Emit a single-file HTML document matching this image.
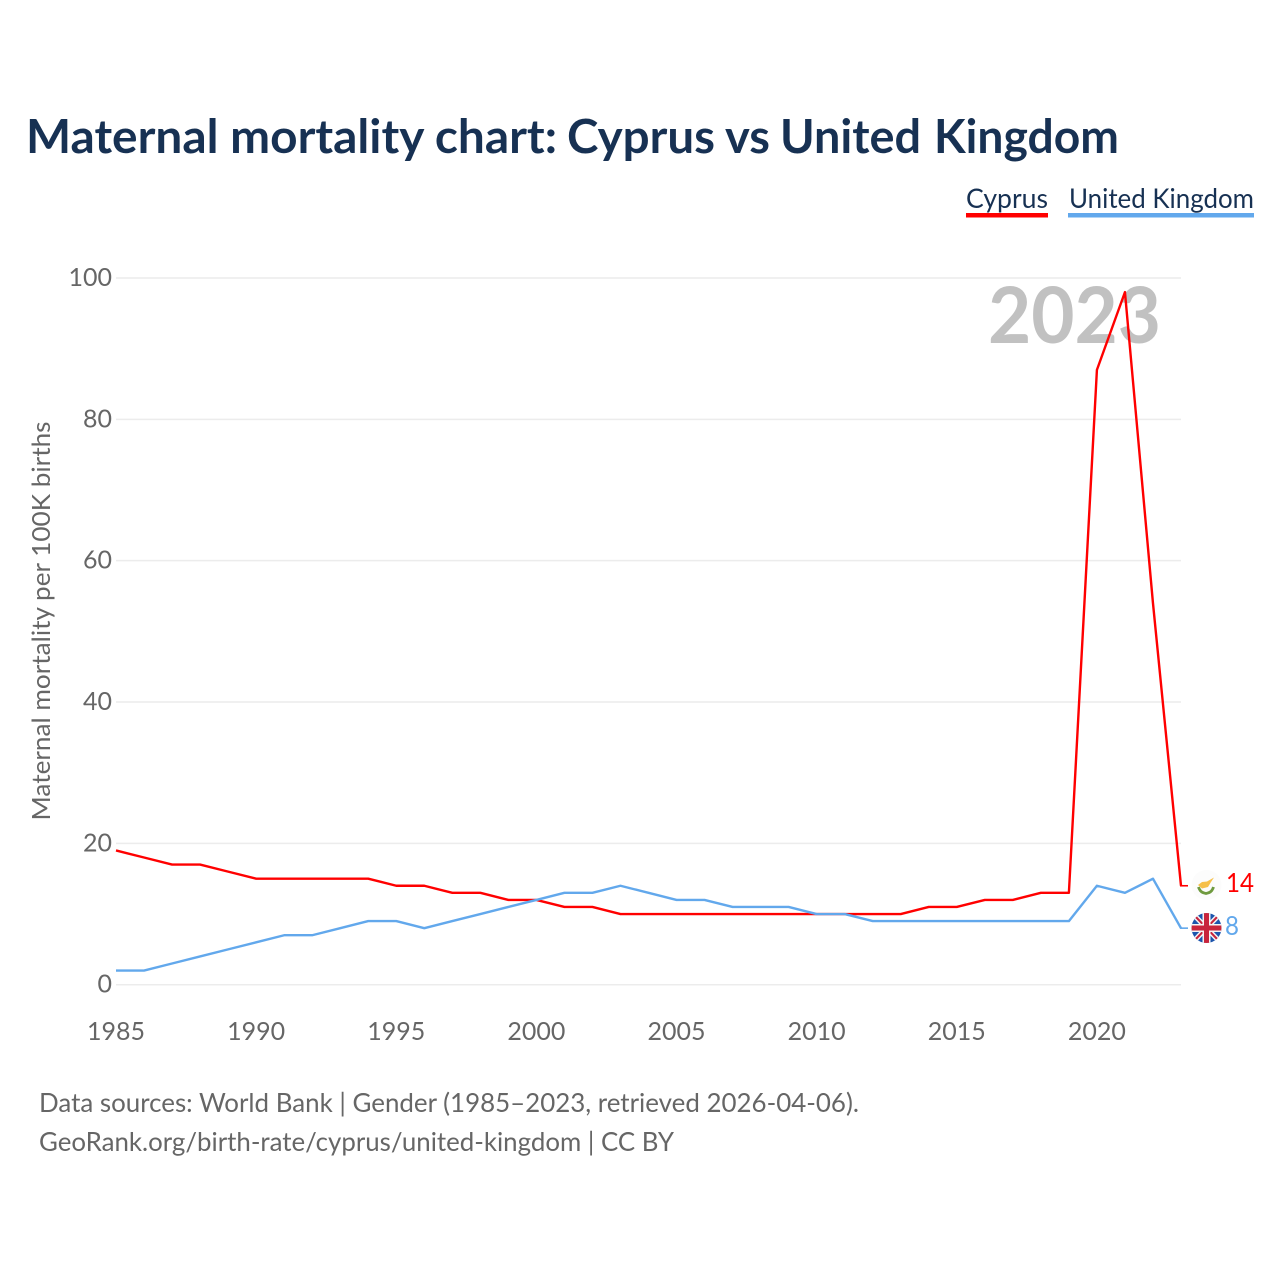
<!DOCTYPE html>
<html lang="en">
<head>
<meta charset="utf-8">
<title>Maternal mortality chart: Cyprus vs United Kingdom</title>
<style>
html,body{margin:0;padding:0;background:#fff;}
svg{display:block;font-family:"Lato","Carlito","Liberation Sans",sans-serif;}
</style>
</head>
<body>
<svg id="chart" xmlns="http://www.w3.org/2000/svg" width="1280" height="1280" viewBox="0 0 1280 1280">
  <rect x="0" y="0" width="1280" height="1280" fill="#ffffff"/>
  <text y="153" font-size="47" font-weight="700" fill="#173153"><tspan x="26" textLength="531" lengthAdjust="spacingAndGlyphs">Maternal mortality chart:</tspan> <tspan x="567" textLength="148" lengthAdjust="spacingAndGlyphs">Cyprus</tspan> <tspan x="725" textLength="45" lengthAdjust="spacingAndGlyphs">vs</tspan> <tspan x="780" textLength="141" lengthAdjust="spacingAndGlyphs">United</tspan> <tspan x="934" textLength="185" lengthAdjust="spacingAndGlyphs">Kingdom</tspan></text>

  <g>
    <g>
      <text x="966" y="208" font-size="27" fill="#173153" textLength="82" lengthAdjust="spacingAndGlyphs">Cyprus</text>
      <rect x="966" y="213" width="82" height="4.500" fill="#ff0000"/>
    </g>
    <g>
      <text x="1069" y="208" font-size="27" fill="#173153" textLength="185" lengthAdjust="spacingAndGlyphs">United Kingdom</text>
      <rect x="1068" y="213" width="186" height="4.500" fill="#62a8ec"/>
    </g>
  </g>

  <text transform="translate(50,621) rotate(-90)" text-anchor="middle" font-size="25" fill="#666666" textLength="399" lengthAdjust="spacingAndGlyphs">Maternal mortality per 100K births</text>

  <g id="grid"></g>
  <g id="y-labels"></g>
  <g id="x-labels"></g>

  <text x="1161" y="343" text-anchor="end" font-size="78" font-weight="700" fill="#c1c1c1" textLength="173" lengthAdjust="spacingAndGlyphs">2023</text>

  <g id="series"></g>

  <g>
    <circle cx="1206.500" cy="885" r="15" fill="#fcfcfc"/>
    <path d="M1198 885 L1202 882 L1207 881.500 L1214 877.500 L1211 882 L1208 887 L1202 888.500 Z" fill="#f6c04a"/>
    <path d="M1198.500 887 C1200 892 1203 893 1206 893.500 C1209 893 1212 892 1213.500 887" fill="none" stroke="#6f9a3f" stroke-width="2.800"/>
  </g>

  <g>
    <defs>
      <clipPath id="uk-clip"><circle cx="1206.500" cy="928" r="15"/></clipPath>
    </defs>
    <g clip-path="url(#uk-clip)">
      <rect x="1191" y="913" width="31" height="30" fill="#1c55ad"/>
      <path d="M1194 915 L1219 941 M1219 915 L1194 941" stroke="#f4f4f4" stroke-width="5"/>
      <path d="M1194 915 L1219 941 M1219 915 L1194 941" stroke="#c8243c" stroke-width="2"/>
      <path d="M1206.500 913 V943 M1191 928 H1222" stroke="#f4f4f4" stroke-width="8"/>
      <path d="M1206.500 913 V943 M1191 928 H1222" stroke="#c8243c" stroke-width="5"/>
    </g>
  </g>

  <text id="value-cyprus" x="1226" y="892" font-size="26" fill="#ff0000" textLength="28" lengthAdjust="spacingAndGlyphs"></text>
  <text id="value-uk" x="1225" y="935" font-size="26" fill="#62a8ec" textLength="14" lengthAdjust="spacingAndGlyphs"></text>

  <g>
    <text x="39" y="1112" font-size="26" fill="#666666" textLength="820" lengthAdjust="spacingAndGlyphs">Data sources: World Bank | Gender (1985–2023, retrieved 2026-04-06).</text>
    <text x="39" y="1151" font-size="26" fill="#666666" textLength="635" lengthAdjust="spacingAndGlyphs">GeoRank.org/birth-rate/cyprus/united-kingdom | CC BY</text>
  </g>
</svg>
<script>
const years = [1985,1986,1987,1988,1989,1990,1991,1992,1993,1994,1995,1996,1997,1998,1999,2000,2001,2002,2003,2004,2005,2006,2007,2008,2009,2010,2011,2012,2013,2014,2015,2016,2017,2018,2019,2020,2021,2022,2023];
const cyprusValues = [19,18,17,17,16,15,15,15,15,15,14,14,13,13,12,12,11,11,10,10,10,10,10,10,10,10,10,10,10,11,11,12,12,13,13,87,98,54,14];
const ukValues = [2,2,3,4,5,6,7,7,8,9,9,8,9,10,11,12,13,13,14,13,12,12,11,11,11,10,10,9,9,9,9,9,9,9,9,14,13,15,8];
const yTicks = [0,20,40,60,80,100];
const xTicks = [1985,1990,1995,2000,2005,2010,2015,2020];

const svgNS = 'http://www.w3.org/2000/svg';
function xScale(year) { return 116 + (year - 1985) * (1181 - 116) / 38; }
function yScale(value) { return 984.7 - value * (984.7 - 278) / 100; }

const grid = document.getElementById('grid');
const yLabels = document.getElementById('y-labels');
const xLabels = document.getElementById('x-labels');
const seriesGroup = document.getElementById('series');

yTicks.forEach(function (tick) {
  const line = document.createElementNS(svgNS, 'line');
  
  
  line.setAttribute('x1', 116);
  line.setAttribute('x2', 1181);
  line.setAttribute('y1', yScale(tick));
  line.setAttribute('y2', yScale(tick));
  line.setAttribute('stroke', '#ececec');
  line.setAttribute('stroke-width', 1.5);
  grid.appendChild(line);

  const label = document.createElementNS(svgNS, 'text');
  
  
  label.setAttribute('x', 112);
  label.setAttribute('y', yScale(tick) + 8);
  label.setAttribute('text-anchor', 'end');
  label.setAttribute('font-size', 25);
  label.setAttribute('fill', '#666666');
  label.textContent = String(tick);
  yLabels.appendChild(label);
});

xTicks.forEach(function (tick) {
  const label = document.createElementNS(svgNS, 'text');
  
  
  label.setAttribute('x', xScale(tick));
  label.setAttribute('y', 1040);
  label.setAttribute('text-anchor', 'middle');
  label.setAttribute('font-size', 25);
  label.setAttribute('fill', '#666666');
  label.textContent = String(tick);
  xLabels.appendChild(label);
});

function buildPoints(values) {
  return values.map(function (value, i) {
    return xScale(years[i]).toFixed(2) + ',' + yScale(value).toFixed(2);
  }).join(' ');
}

function lastValue(values) {
  return values[values.length - 1];
}

const cyprusLine = document.createElementNS(svgNS, 'polyline');


cyprusLine.setAttribute('points', buildPoints(cyprusValues));
cyprusLine.setAttribute('fill', 'none');
cyprusLine.setAttribute('stroke', '#ff0000');
cyprusLine.setAttribute('stroke-width', 2.4);
cyprusLine.setAttribute('stroke-linejoin', 'round');
seriesGroup.appendChild(cyprusLine);

const ukLine = document.createElementNS(svgNS, 'polyline');


ukLine.setAttribute('points', buildPoints(ukValues));
ukLine.setAttribute('fill', 'none');
ukLine.setAttribute('stroke', '#62a8ec');
ukLine.setAttribute('stroke-width', 2.4);
ukLine.setAttribute('stroke-linejoin', 'round');
seriesGroup.appendChild(ukLine);

const cyprusTail = document.createElementNS(svgNS, 'line');


cyprusTail.setAttribute('x1', xScale(2023) - 1);
cyprusTail.setAttribute('x2', xScale(2023) + 7);
cyprusTail.setAttribute('y1', yScale(lastValue(cyprusValues)));
cyprusTail.setAttribute('y2', yScale(lastValue(cyprusValues)));
cyprusTail.setAttribute('stroke', '#ff0000');
cyprusTail.setAttribute('stroke-width', 1.6);
seriesGroup.appendChild(cyprusTail);

const ukTail = document.createElementNS(svgNS, 'line');


ukTail.setAttribute('x1', xScale(2023) - 1);
ukTail.setAttribute('x2', xScale(2023) + 7);
ukTail.setAttribute('y1', yScale(lastValue(ukValues)));
ukTail.setAttribute('y2', yScale(lastValue(ukValues)));
ukTail.setAttribute('stroke', '#62a8ec');
ukTail.setAttribute('stroke-width', 1.6);
seriesGroup.appendChild(ukTail);

document.getElementById('value-cyprus').textContent = String(lastValue(cyprusValues));
document.getElementById('value-uk').textContent = String(lastValue(ukValues));
</script>
</body>
</html>
